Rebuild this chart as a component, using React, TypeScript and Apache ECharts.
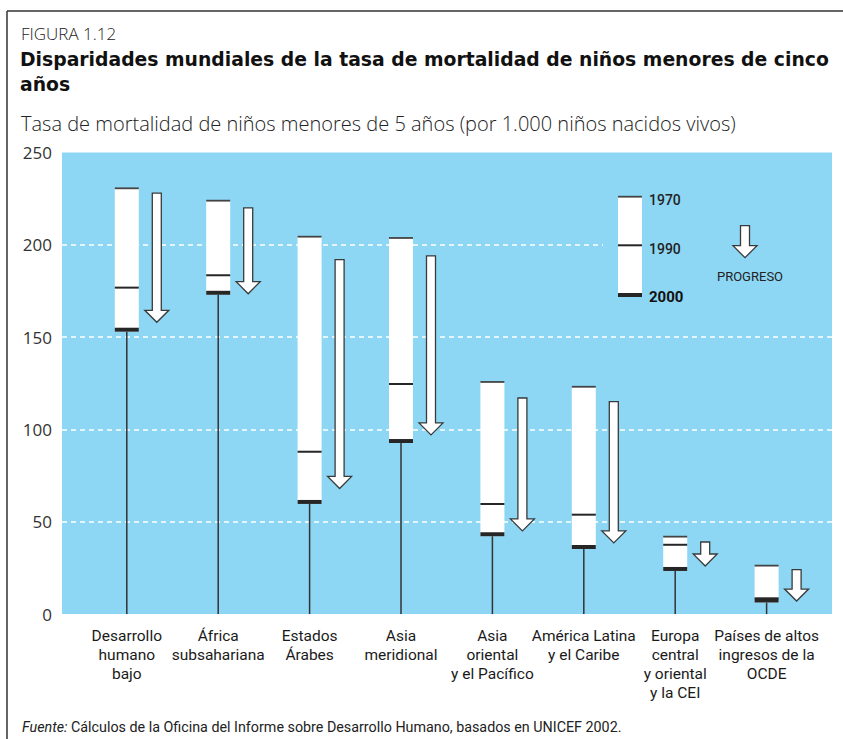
import React, { useEffect, useRef } from "react";
import * as echarts from "echarts";

const categories = [
  "Desarrollo\nhumano\nbajo",
  "África\nsubsahariana",
  "Estados\nÁrabes",
  "Asia\nmeridional",
  "Asia\noriental\ny el Pacífico",
  "América Latina\ny el Caribe",
  "Europa\ncentral\ny oriental\ny la CEI",
  "Países de altos\ningresos de la\nOCDE",
];
const rate1970 = [230.6, 223.9, 204.4, 203.7, 125.7, 123.1, 41.9, 26.2];
const rate1990 = [176.8, 183.5, 87.9, 124.6, 59.6, 53.8, 37.5, 8.5];
const rate2000 = [154, 174, 60.7, 93.7, 43.2, 36.3, 24.4, 7.3];
const arrowStart = [228, 220, 192, 194, 117, 115, 39, 24];
const arrowEnd = [158, 173.5, 68, 97, 45, 38.5, 26, 7];

const BLUE = "#8dd7f5";
const DARK = "#262626";
const COND = 'Roboto, "Noto Sans", sans-serif';
const SANS = '"Open Sans", "Noto Sans", sans-serif';
const WIDE = '"DejaVu Sans", "Open Sans", sans-serif';

function arrowPoints(ax: number, yt: number, yb: number) {
  const sh = 4.5, hh = 12, hw = 12;
  return [
    [ax - sh, yt], [ax + sh, yt], [ax + sh, yb - hh], [ax + hw, yb - hh],
    [ax, yb], [ax - hw, yb - hh], [ax - sh, yb - hh],
  ];
}

export default function App() {
  const ref = useRef<HTMLDivElement>(null);
  useEffect(() => {
    document.body.style.margin = "0";
    const chart = echarts.init(ref.current!, null, { renderer: "svg" });
    const data = categories.map((_, i) => [i, rate1970[i], rate1990[i], rate2000[i], arrowStart[i], arrowEnd[i]]);
    const Z = 100;
    const option: any = {
      animation: false,
      backgroundColor: "#ffffff",
      grid: [
        { left: 62, top: 152.5, width: 770, height: 461.5, show: true, backgroundColor: BLUE, borderWidth: 0 },
        { left: 81.1, top: 152.5, width: 731.2, height: 461.5 },
      ],
      xAxis: [
        { type: "value", gridIndex: 0, min: 0, max: 1, show: false },
        {
          type: "category", gridIndex: 1, data: categories,
          axisLine: { show: false }, axisTick: { show: false }, splitLine: { show: false },
          axisLabel: { interval: 0, margin: 12, fontFamily: COND, fontSize: 15.5, lineHeight: 19, color: "#1a1a1a", align: "center" },
        },
      ],
      yAxis: [
        {
          type: "value", gridIndex: 0, min: 0, max: 250, interval: 50,
          axisLine: { show: false }, axisTick: { show: false },
          axisLabel: { margin: 10, fontFamily: SANS, fontSize: 17, color: "#333" },
          splitLine: { show: true, showMinLine: false, showMaxLine: false, lineStyle: { color: "#ffffff", type: [5, 4], width: 1.5 } },
        },
        { type: "value", gridIndex: 1, min: 0, max: 250, show: false },
      ],
      series: [
        {
          type: "custom", xAxisIndex: 1, yAxisIndex: 1, data, clip: false, z: 10,
          renderItem: (params: any, api: any) => {
            const i = api.value(0);
            const [cx, y0] = api.coord([i, 0]);
            const y70 = api.coord([i, api.value(1)])[1];
            const y90 = api.coord([i, api.value(2)])[1];
            const y00 = api.coord([i, api.value(3)])[1];
            const ya = api.coord([i, api.value(4)])[1];
            const yb = api.coord([i, api.value(5)])[1];
            const bw = 24;
            const ax = cx + 30;
            return {
              type: "group",
              children: [
                { type: "line", shape: { x1: cx, y1: y0, x2: cx, y2: y00 }, style: { stroke: "#333", lineWidth: 1.5 } },
                { type: "rect", shape: { x: cx - bw / 2, y: y70, width: bw, height: y00 - y70 + 2 }, style: { fill: "#fff" } },
                { type: "line", shape: { x1: cx - bw / 2, y1: y70, x2: cx + bw / 2, y2: y70 }, style: { stroke: "#444", lineWidth: 1.8 } },
                { type: "line", shape: { x1: cx - bw / 2, y1: y90, x2: cx + bw / 2, y2: y90 }, style: { stroke: DARK, lineWidth: 2 } },
                { type: "rect", shape: { x: cx - bw / 2, y: y00 - 2, width: bw, height: 4 }, style: { fill: DARK } },
                { type: "polygon", shape: { points: arrowPoints(ax, ya, yb) }, style: { fill: "#fff", stroke: "#3a3a3a", lineWidth: 1.3 } },
              ],
            };
          },
        },
      ],
      graphic: [
        { type: "line", z: Z, shape: { x1: 7, y1: 11, x2: 843, y2: 11 }, style: { stroke: "#333", lineWidth: 1.5 } },
        { type: "line", z: Z, shape: { x1: 7, y1: 11, x2: 7, y2: 739 }, style: { stroke: "#333", lineWidth: 1.5 } },
        { type: "text", z: Z, x: 21, y: 33, style: { text: "FIGURA 1.12", font: `300 17px ${SANS}`, fill: "#222", verticalAlign: "middle" } },
        { type: "text", z: Z, x: 20, y: 59, style: { text: "Disparidades mundiales de la tasa de mortalidad de niños menores de cinco", font: `bold 18.8px ${WIDE}`, fill: "#111", verticalAlign: "middle" } },
        { type: "text", z: Z, x: 20, y: 84, style: { text: "años", font: `bold 18.8px ${WIDE}`, fill: "#111", verticalAlign: "middle" } },
        { type: "text", z: Z, x: 21, y: 123, style: { text: "Tasa de mortalidad de niños menores de 5 años (por 1.000 niños nacidos vivos)", font: `300 20px ${SANS}`, fill: "#222", verticalAlign: "middle" } },
        {
          type: "text", z: Z, x: 22, y: 727,
          style: {
            text: "{i|Fuente:} Cálculos de la Oficina del Informe sobre Desarrollo Humano, basados en UNICEF 2002.",
            font: `14.3px ${COND}`, fill: "#222", verticalAlign: "middle",
            rich: { i: { fontStyle: "italic", fontFamily: COND, fontSize: 14.3, fill: "#222" } },
          },
        },
        // cover of the 200 gridline behind the legend
        { type: "rect", z: Z, shape: { x: 603, y: 242, width: 229, height: 6 }, style: { fill: BLUE } },
        // legend
        { type: "rect", z: Z + 1, shape: { x: 618, y: 196.7, width: 24, height: 100 }, style: { fill: "#fff" } },
        { type: "line", z: Z + 1, shape: { x1: 618, y1: 196.7, x2: 642, y2: 196.7 }, style: { stroke: "#444", lineWidth: 1.8 } },
        { type: "line", z: Z + 1, shape: { x1: 618, y1: 245.3, x2: 642, y2: 245.3 }, style: { stroke: DARK, lineWidth: 2 } },
        { type: "rect", z: Z + 1, shape: { x: 618, y: 293, width: 24, height: 4 }, style: { fill: DARK } },
        { type: "text", z: Z + 1, x: 649, y: 200, style: { text: "1970", font: `500 14px ${COND}`, fill: "#222", verticalAlign: "middle" } },
        { type: "text", z: Z + 1, x: 649, y: 248.7, style: { text: "1990", font: `500 14px ${COND}`, fill: "#222", verticalAlign: "middle" } },
        { type: "text", z: Z + 1, x: 649, y: 296.7, style: { text: "2000", font: `bold 15px ${COND}`, fill: "#111", verticalAlign: "middle" } },
        { type: "polygon", z: Z + 1, shape: { points: arrowPoints(745, 225.7, 257.7) }, style: { fill: "#fff", stroke: "#3a3a3a", lineWidth: 1.3 } },
        { type: "text", z: Z + 1, x: 750, y: 276.7, style: { text: "PROGRESO", font: `13px ${COND}`, fill: "#222", align: "center", verticalAlign: "middle" } },
      ],
    };
    chart.setOption(option);
    return () => chart.dispose();
  }, []);
  return <div ref={ref} style={{ width: 843, height: 739 }} />;
}
